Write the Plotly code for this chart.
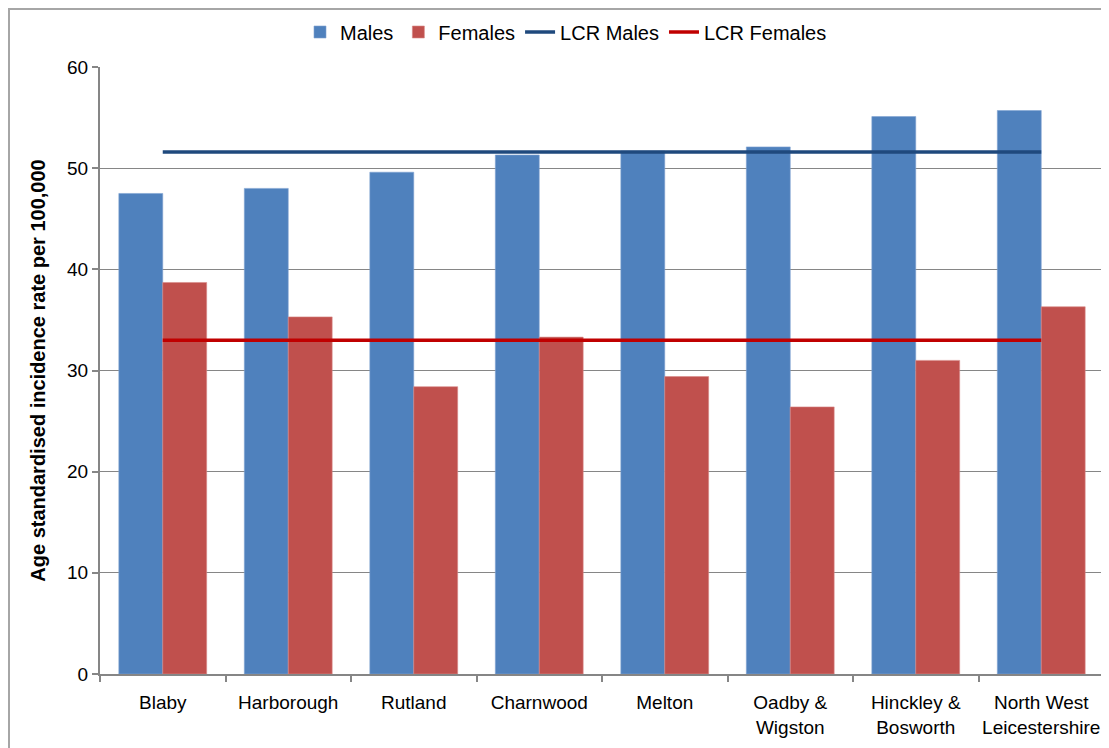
import plotly.graph_objects as go

categories = ["Blaby", "Harborough", "Rutland", "Charnwood", "Melton",
              "Oadby &<br>Wigston", "Hinckley &<br>Bosworth", "North West<br>Leicestershire"]
males = [47.5, 48.0, 49.6, 51.3, 51.7, 52.1, 55.1, 55.7]
females = [38.7, 35.3, 28.4, 33.3, 29.4, 26.4, 31.0, 36.3]
lcr_males = 51.6
lcr_females = 33.0

FONT = "Liberation Sans, Arial, sans-serif"

fig = go.Figure()
fig.add_trace(go.Bar(name="Males", x=categories, y=males, marker_color="#4F81BD",
                     marker_line=dict(color="#7FA3D2", width=0.6)))
fig.add_trace(go.Bar(name="Females", x=categories, y=females, marker_color="#C0504D",
                     marker_line=dict(color="#D98A88", width=0.6)))
fig.add_trace(go.Scatter(name="LCR Males", x=categories, y=[lcr_males] * len(categories),
                         mode="lines", line=dict(color="#1F497D", width=3.5)))
fig.add_trace(go.Scatter(name="LCR Females", x=categories, y=[lcr_females] * len(categories),
                         mode="lines", line=dict(color="#C00000", width=3.5)))

# figure is offset by the 8px page body margin
OFF = 8
W, H = 1101, 740
L, R, T, B = 92, 5, 59, 74
pw, ph = W - L - R, H - T - B

def px_x(p):
    return (p - OFF - L) / pw

def px_y(p):
    return (H - B - (p - OFF)) / ph

fig.update_layout(
    width=W, height=H,
    margin=dict(l=L, r=R, t=T, b=B, autoexpand=False),
    paper_bgcolor="white", plot_bgcolor="white",
    barmode="group", bargap=0.3, bargroupgap=0,
    font=dict(family=FONT, size=19, color="black"),
    legend=dict(orientation="h", x=px_x(566), xanchor="center", y=px_y(32), yanchor="middle",
                font=dict(size=20), itemwidth=30, tracegroupgap=0,
                bgcolor="rgba(0,0,0,0)"),
    xaxis=dict(showgrid=False, showline=True, linecolor="#868686", linewidth=2,
               ticks="outside", tickson="boundaries", ticklen=6, tickcolor="#868686",
               tickwidth=1.5, tickfont=dict(size=19), tickangle=0, automargin=False,
               ticklabelstandoff=10, range=[-0.5, 7.5]),
    yaxis=dict(range=[0, 60], dtick=10, showgrid=True, gridcolor="#868686", gridwidth=1,
               showline=True, linecolor="#868686", linewidth=2, ticks="outside", ticklen=6,
               tickcolor="#868686", tickwidth=1.5, tickfont=dict(size=19), zeroline=False,
               automargin=False,
               title=dict(text="<b>Age standardised incidence rate per 100,000</b>",
                          font=dict(size=20), standoff=16)),
    shapes=[
        dict(type="line", xref="paper", yref="paper", x0=px_x(7), x1=px_x(1109),
             y0=px_y(9), y1=px_y(9), line=dict(color="#A6A6A6", width=2)),
        dict(type="line", xref="paper", yref="paper", x0=px_x(9), x1=px_x(9),
             y0=px_y(9), y1=px_y(748), line=dict(color="#A6A6A6", width=2)),
    ],
)

fig.write_html("out.html")
